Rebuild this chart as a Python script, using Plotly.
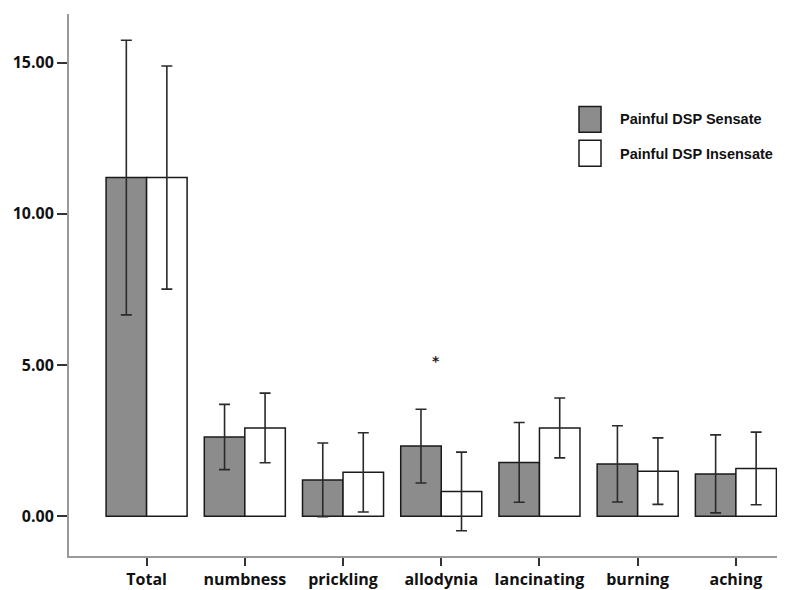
import plotly.graph_objects as go

categories = ["Total", "numbness", "prickling", "allodynia", "lancinating", "burning", "aching"]
sensate_mean = [11.20, 2.62, 1.20, 2.32, 1.78, 1.73, 1.40]
sensate_err = [4.54, 1.08, 1.22, 1.22, 1.32, 1.26, 1.29]
insensate_mean = [11.20, 2.92, 1.45, 0.82, 2.92, 1.49, 1.58]
insensate_err = [3.69, 1.15, 1.31, 1.30, 0.99, 1.10, 1.20]
series_names = ["Painful DSP Sensate", "Painful DSP Insensate"]
y_tickvals = [0, 5, 10, 15]
y_ticktext = ["0.00", "5.00", "10.00", "15.00"]
star_label = "*"
star_cat = 2.95
star_y = 5.12

# the page body adds an 8px offset; size the figure so the plot lands where the reference has it
OFF = 8
W, H = 785 - OFF, 590 - OFF
ML, MR, MT, MB = 69 - OFF, 0, 14 - OFF, 590 - 559
PW, PH = W - ML - MR, H - MT - MB

def px(x):
    return (x - OFF - ML) / PW

def py(y):
    return (H - MB - (y - OFF)) / PH

gray = "#8c8c8c"
err_style = dict(type="data", visible=True, color="#2a2a2a", thickness=1.6, width=5.5)

fig = go.Figure()
fig.add_trace(go.Bar(
    x=list(range(len(categories))), y=sensate_mean, name=series_names[0],
    marker=dict(color=gray, line=dict(color="#1a1a1a", width=1.5)),
    error_y=dict(array=sensate_err, **err_style), showlegend=False,
))
fig.add_trace(go.Bar(
    x=list(range(len(categories))), y=insensate_mean, name=series_names[1],
    marker=dict(color="white", line=dict(color="#1a1a1a", width=1.5)),
    error_y=dict(array=insensate_err, **err_style), showlegend=False,
))

fig.add_annotation(x=star_cat, y=star_y, text="<b>" + star_label + "</b>", showarrow=False,
                   font=dict(family="DejaVu Sans", size=14, color="#222"))

# legend drawn manually to match the reference box size
legend_items = [(series_names[0], gray, 107, 133, 120), (series_names[1], "white", 141, 167, 155)]
for name, col, y0, y1, yt in legend_items:
    fig.add_shape(type="rect", xref="paper", yref="paper",
                  x0=px(579), x1=px(601), y0=py(y1), y1=py(y0),
                  fillcolor=col, line=dict(color="#1a1a1a", width=1.5))
    fig.add_annotation(xref="paper", yref="paper", x=px(618), y=py(yt), text="<b>" + name + "</b>",
                       showarrow=False, xanchor="left", yanchor="middle",
                       font=dict(family="Liberation Sans", size=14.5, color="#111"))

fig.update_layout(
    width=W, height=H, margin=dict(l=ML, r=MR, t=MT, b=MB),
    paper_bgcolor="white", plot_bgcolor="white",
    barmode="group", bargap=0.175, bargroupgap=0,
    showlegend=False,
)
fig.update_xaxes(
    range=[-0.79, 6.5], tickmode="array", tickvals=list(range(len(categories))),
    ticktext=["<b>" + c + "</b>" for c in categories],
    showgrid=False, zeroline=False, showline=True, linecolor="#9a9a9a", linewidth=2,
    ticks="outside", ticklen=8, tickwidth=2, tickcolor="#333",
    tickfont=dict(family="Open Sans", size=16, color="#111"),
)
fig.update_yaxes(
    range=[-1.316, 16.61], tickmode="array", tickvals=y_tickvals, ticktext=["<b>" + t + "</b>" for t in y_ticktext],
    showgrid=False, zeroline=False, showline=True, linecolor="#9a9a9a", linewidth=2,
    ticks="outside", ticklen=10, tickwidth=2, tickcolor="#333",
    tickfont=dict(family="Open Sans", size=16, color="#111"),
)

fig.write_html("out.html")
